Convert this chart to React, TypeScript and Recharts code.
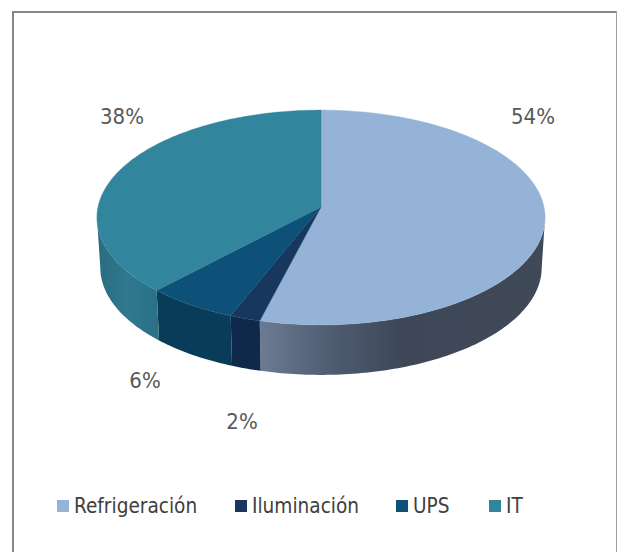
import React from "react";
import { PieChart, Pie, Legend } from "recharts";

const categories = ["Refrigeración", "Iluminación", "UPS", "IT"];
const shares = [54, 2, 6, 38];
const topColors = ["#95B3D7", "#17375E", "#0E5178", "#31859C"];
const wallFills = ["url(#wallRefrigeracion)", "#10294A", "#083C58", "url(#wallIT)"];

// Layout and style constants (not data)
const FONT = "'DejaVu Sans', Verdana, sans-serif";
const labelAnchors = [
  [533, 116],
  [242, 421],
  [145, 380],
  [122, 116],
];
const legendColumns = [178, 161, 93, 80];

const PERSPECTIVE = 0.0978;
const SQUASH = 0.477;
const DEPTH = 50;
const FLOOR_SCALE = 0.985;
const toTheta = (a: number) => 90 - a;

const project = (cx: number, cy: number, r: number, thetaDeg: number, sx = 1, dy = 0) => {
  const t = (thetaDeg * Math.PI) / 180;
  const X = Math.sin(t);
  const Y = -Math.cos(t);
  const w = 1 - PERSPECTIVE * Y;
  return [cx + (sx * X * r) / w, cy + (Y * r * SQUASH) / w + dy];
};

const range = (a: number, b: number) => {
  const out: number[] = [];
  const n = Math.max(2, Math.ceil(Math.abs(b - a)));
  for (let i = 0; i <= n; i++) out.push(a + ((b - a) * i) / n);
  return out;
};
const toPath = (pts: number[][]) =>
  "M" + pts.map((p) => `${p[0].toFixed(2)},${p[1].toFixed(2)}`).join("L") + "Z";

const WALL_FROM = 95.6;
const WALL_TO = 264.4;

const Slice3D = (props: any) => {
  const { cx, cy, outerRadius, startAngle, endAngle, fill, index } = props;
  const t0 = toTheta(startAngle);
  const t1 = toTheta(endAngle);
  const arc = range(t0, t1).map((t) => project(cx, cy, outerRadius, t));
  const wa = Math.max(t0, WALL_FROM);
  const wb = Math.min(t1, WALL_TO);
  let wall: string | null = null;
  if (wb > wa) {
    const upper = range(wa, wb).map((t) => project(cx, cy, outerRadius, t));
    const lower = range(wb, wa).map((t) => project(cx, cy, outerRadius, t, FLOOR_SCALE, DEPTH));
    wall = toPath([...upper, ...lower]);
  }
  return (
    <g>
      {wall && <path d={wall} fill={wallFills[index]} />}
      <path d={toPath([[cx, cy], ...arc])} fill={fill} stroke={fill} strokeWidth={0.4} />
    </g>
  );
};

const renderLabel = (props: any) => {
  const [x, y] = labelAnchors[props.index];
  return (
    <text
      x={x}
      y={y}
      textAnchor="middle"
      dominantBaseline="central"
      fontFamily={FONT}
      fontSize={22}
      fill="#595959"
      style={{ fontStretch: "condensed" }}
    >
      {`${shares[props.index]}%`}
    </text>
  );
};

const renderLegend = (props: any) => (
  <div style={{ display: "flex", paddingLeft: 57 }}>
    {(props.payload || []).map((entry: any, i: number) => (
      <div key={i} style={{ width: legendColumns[i], display: "flex", alignItems: "center", flex: "none" }}>
        <span style={{ width: 12, height: 12, background: entry.color, marginRight: 5, flex: "none" }} />
        <span style={{ fontFamily: FONT, fontSize: 20.6, color: "#404040", fontStretch: "condensed", whiteSpace: "nowrap" }}>
          {entry.value}
        </span>
      </div>
    ))}
  </div>
);

const table = categories.map((name, i) => ({ name, value: shares[i], fill: topColors[i] }));

export default function App() {
  return (
    <div style={{ position: "absolute", left: 0, top: 0, width: 617, height: 552, background: "#fff", overflow: "hidden" }}>
      <div
        style={{
          position: "absolute",
          left: 12,
          top: 11,
          width: 603,
          height: 541,
          borderLeft: "2px solid #868686",
          borderTop: "2px solid #868686",
        }}
      />
      <div style={{ position: "absolute", left: 616, top: 11, width: 1, height: 541, background: "#A0A0A0" }} />
      <div style={{ position: "absolute", left: 0, top: 0 }}>
        <PieChart width={617} height={552} margin={{ top: 0, right: 0, bottom: 0, left: 0 }}>
          <defs>
            <linearGradient id="wallRefrigeracion" x1="0" y1="0" x2="1" y2="0">
              <stop offset="0" stopColor="#6C7B94" />
              <stop offset="0.25" stopColor="#4F5C71" />
              <stop offset="0.5" stopColor="#3D4757" />
              <stop offset="1" stopColor="#3F4957" />
            </linearGradient>
            <linearGradient id="wallIT" x1="0" y1="0" x2="1" y2="0">
              <stop offset="0" stopColor="#2A6C80" />
              <stop offset="0.5" stopColor="#2F798F" />
              <stop offset="1" stopColor="#2A7087" />
            </linearGradient>
          </defs>
          <Pie
            data={table}
            dataKey="value"
            nameKey="name"
            cx={321}
            cy={207}
            outerRadius={223}
            startAngle={90}
            endAngle={-270}
            paddingAngle={0}
            stroke="none"
            shape={Slice3D}
            label={renderLabel}
            labelLine={false}
            isAnimationActive={false}
          />
          <Legend
            content={renderLegend}
            itemSorter={null}
            wrapperStyle={{ position: "absolute", left: 0, top: 494, width: 617, bottom: "auto" }}
          />
        </PieChart>
      </div>
    </div>
  );
}
